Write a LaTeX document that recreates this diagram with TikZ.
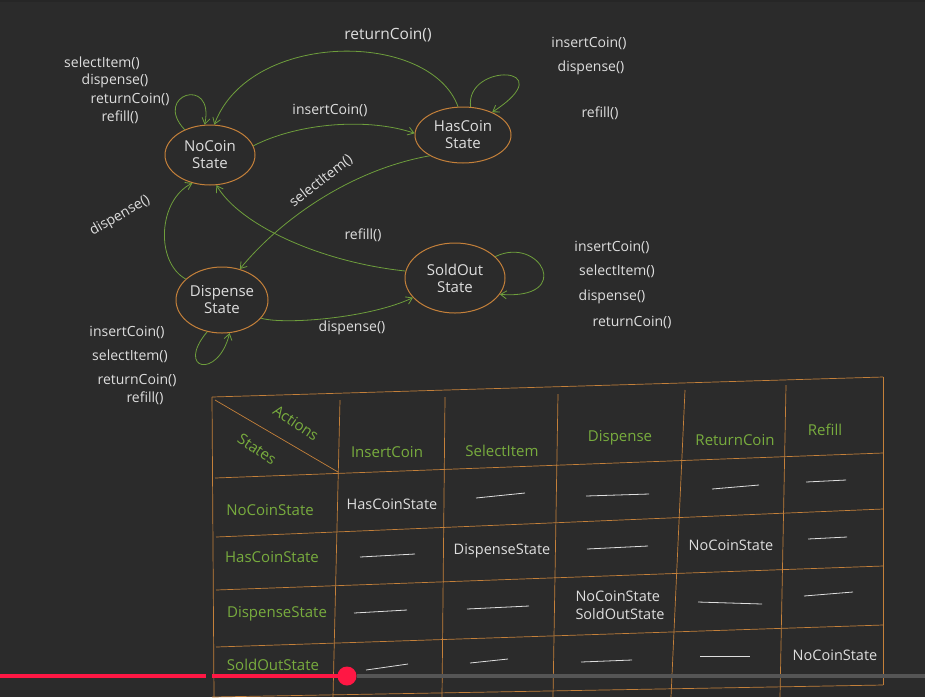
\documentclass[tikz,border=0pt]{standalone}
\usepackage{fontspec}
\setmainfont{Open Sans}
\usetikzlibrary{shapes.geometric,arrows.meta}
\definecolor{bgc}{RGB}{43,43,43}
\definecolor{orng}{RGB}{196,128,58}
\definecolor{grn}{RGB}{110,158,60}
\definecolor{grntxt}{RGB}{120,172,62}
\definecolor{wtxt}{RGB}{222,222,222}
\definecolor{barred}{RGB}{255,23,68}
\definecolor{bargray}{RGB}{85,85,85}
\tikzset{
  state/.style={ellipse,draw=orng,line width=1pt,text=wtxt,font=\fontsize{15}{17}\selectfont,align=center,inner sep=0pt},
  edge/.style={draw=grn,line width=0.8pt,-{Straight Barb[length=6pt,width=8pt]}},
  lbl/.style={text=wtxt,font=\fontsize{14}{16}\selectfont,inner sep=0pt},
  tline/.style={draw=orng,line width=0.7pt},
  hdr/.style={text=grntxt,font=\fontsize{15}{17}\selectfont,inner sep=0pt},
  cell/.style={text=wtxt,font=\fontsize{14.5}{18}\selectfont,inner sep=0pt,align=left},
  dsh/.style={draw=wtxt,line width=0.8pt}
}
\begin{document}
\begin{tikzpicture}[x=1pt,y=-1pt]
\fill[bgc] (0,0) rectangle (925,697);
\fill[black!85] (0,0) rectangle (925,2);
\useasboundingbox (0,0) rectangle (925,697);

% states
\node[state,minimum width=90pt,minimum height=60pt] (nc) at (210,155) {NoCoin\\State};
\node[state,minimum width=96pt,minimum height=56pt] (hc) at (463,135) {HasCoin\\State};
\node[state,minimum width=100pt,minimum height=70pt] (so) at (455,278) {SoldOut\\State};
\node[state,minimum width=92pt,minimum height=66pt] (ds) at (222,300) {Dispense\\State};

% edges
\draw[edge] (nc.12) .. controls (300,122) and (370,118) .. (hc.178);
\node[lbl] (l1) at (330,110) {insertCoin()};

\draw[edge] (hc.100) .. controls (430,30) and (250,30) .. (nc.82);
\node[lbl,font=\fontsize{15.5}{17}\selectfont] (l2) at (388,35) {returnCoin()};

\draw[edge] (nc.135) .. controls (152,95) and (215,75) .. (nc.100);
\node[lbl] (l3a) at (102,63) {selectItem()};
\node[lbl] (l3b) at (115,81) {dispense()};
\node[lbl] (l3c) at (130,99) {returnCoin()};
\node[lbl] (l3d) at (120,117) {refill()};

\draw[edge] (hc.75) .. controls (465,62) and (565,65) .. (hc.38);
\node[lbl] (l4a) at (589,43) {insertCoin()};
\node[lbl] (l4b) at (591,68) {dispense()};
\node[lbl] (l4c) at (600,113) {refill()};

\draw[edge] (hc.212) .. controls (350,170) and (280,220) .. (ds.60);
\node[lbl,rotate=38] (l5) at (321,181) {selectItem()};

\draw[edge] (so.172) .. controls (320,262) and (240,225) .. (nc.282);
\node[lbl] (l6) at (363,235) {refill()};

\draw[edge] (ds.150) .. controls (155,262) and (158,200) .. (nc.238);
\node[lbl,rotate=30] (l7) at (120,216) {dispense()};

\draw[edge] (ds.335) .. controls (285,325) and (370,318) .. (so.205);
\node[lbl] (l8) at (352,328) {dispense()};

\draw[edge] (so.28) .. controls (540,235) and (575,300) .. (so.340);
\node[lbl] (l9a) at (612,247) {insertCoin()};
\node[lbl] (l9b) at (617,271) {selectItem()};
\node[lbl] (l9c) at (612,297) {dispense()};
\node[lbl] (l9d) at (632,322) {returnCoin()};

\draw[edge] (ds.245) .. controls (175,370) and (218,380) .. (ds.283);
\node[lbl] (l10a) at (127,332) {insertCoin()};
\node[lbl] (l10b) at (130,356) {selectItem()};
\node[lbl] (l10c) at (137,380) {returnCoin()};
\node[lbl] (l10d) at (145,398) {refill()};

% table
\draw[tline] (212,397) -- (883,377);
\draw[tline] (215,478) -- (883,453);
\draw[tline] (216,537) -- (883,509);
\draw[tline] (216,590) -- (883,566);
\draw[tline] (216,647) -- (883,625);
\draw[tline] (212,697) -- (883,685);
\draw[tline] (212,397) -- (214,697);
\draw[tline] (340,400) -- (333,697);
\draw[tline] (445,397) -- (442,697);
\draw[tline] (558,394) -- (553,697);
\draw[tline] (685,390) -- (671,697);
\draw[tline] (786,385) -- (780,697);
\draw[tline] (883,377) -- (883,685);
\draw[tline] (215,400) -- (338,472);

\node[hdr,rotate=-34] (tA) at (296,423) {Actions};
\node[hdr,rotate=-34] (tS) at (257,449) {States};
\node[hdr] (c1) at (387,452) {InsertCoin};
\node[hdr] (c2) at (502,451) {SelectItem};
\node[hdr] (c3) at (620,438) {Dispense};
\node[hdr] (c4) at (735,440) {ReturnCoin};
\node[hdr] (c5) at (825,430) {Refill};
\node[hdr] (r1) at (270,510) {NoCoinState};
\node[hdr] (r2) at (272,557) {HasCoinState};
\node[hdr] (r3) at (277,614) {DispenseState};
\node[hdr] (r4) at (273,665) {SoldOutState};

\node[cell] (x11) at (392,504) {HasCoinState};
\node[cell] (x22) at (502,551) {DispenseState};
\node[cell] (x24) at (731,545) {NoCoinState};
\node[cell] (x33) at (620,605) {NoCoinState\\SoldOutState};
\node[cell] (x45) at (835,655) {NoCoinState};

\draw[dsh] (476,498) -- (525,493);
\draw[dsh] (586,496) -- (649,494);
\draw[dsh] (712,489) -- (759,485);
\draw[dsh] (806,482) -- (846,480);
\draw[dsh] (360,557) -- (415,554);
\draw[dsh] (587,549) -- (648,546);
\draw[dsh] (808,539) -- (847,537);
\draw[dsh] (354,613) -- (407,610);
\draw[dsh] (467,609) -- (529,606);
\draw[dsh] (698,602) -- (762,604);
\draw[dsh] (804,596) -- (853,592);
\draw[dsh] (366,670) -- (408,664);
\draw[dsh] (470,663) -- (508,659);
\draw[dsh] (581,662) -- (632,660);
\draw[dsh] (700,656) -- (750,656);

% player bar
\draw[barred,line width=4pt] (0,676) -- (206,676);
\draw[barred,line width=4pt] (212,676) -- (347,676);
\draw[bargray,line width=4pt] (357,676) -- (925,676);
\fill[barred] (347,676) circle (9.5);
\end{tikzpicture}
\end{document}
